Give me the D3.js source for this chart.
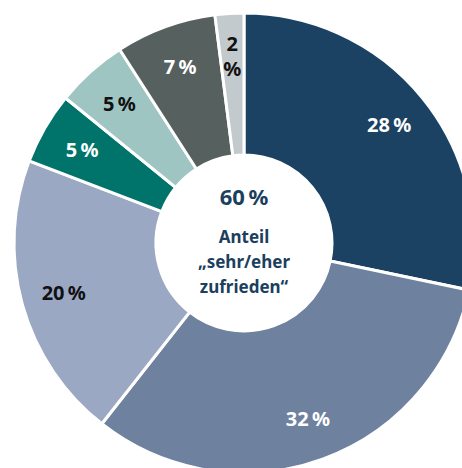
<!DOCTYPE html>
<html>
<head>
<meta charset="utf-8">
<script src="https://cdn.jsdelivr.net/npm/d3@7"></script>
<style>
  body { margin: 0; background: #fff; }
  svg { display: block; }
  text { font-family: "Noto Sans", "Open Sans", sans-serif; font-weight: bold; }
</style>
</head>
<body>
<div id="chart"></div>
<script>
// slices, clockwise from the top
var categories = ["a", "b", "c", "d", "e", "f", "g"];
var values = [28, 32, 20, 5, 5, 7, 2];
var labels = ["28\u202F%", "32\u202F%", "20\u202F%", "5\u202F%", "5\u202F%", "7\u202F%", "2\n%"];
var colors = ["#1b4263", "#6e82a0", "#9ba8c3", "#00746b", "#9fc5c3", "#56605e", "#c3cacd"];
var labelColors = ["#fff", "#fff", "#111", "#fff", "#111", "#fff", "#111"];
var centerLines = ["Anteil", "\u201Esehr/eher", "zufrieden\u201C"];
var centerValue = "60\u202F%";

var width = 462, height = 468;
var cx = 244, cy = 243;
var outerR = 230, innerR = 88;

var svg = d3.select("#chart").append("svg")
      .attr("width", width)
      .attr("height", height)
      .append("g")
      .attr("transform", "translate(" + cx + "," + cy + ")");

var data = categories.map(function(c, i) {
      return { key: c, value: values[i], label: labels[i], color: colors[i], tc: labelColors[i] };
});

var pie = d3.pie().sort(null).value(d => d.value);
var arc = d3.arc().innerRadius(innerR).outerRadius(outerR);
var labelArc = d3.arc().innerRadius(187).outerRadius(187);

var arcs = pie(data);

svg.selectAll("path")
      .data(arcs)
      .enter()
      .append("path")
      .attr("d", arc)
      .style("fill", d => d.data.color)
      .style("stroke", "#fff")
      .style("stroke-width", 3);

// slice labels
svg.selectAll("text.slice")
      .data(arcs)
      .enter()
      .append("text")
      .attr("class", "slice")
      .attr("text-anchor", "middle")
      .style("font-size", "20px")
      .style("fill", d => d.data.tc)
      .each(function(d) {
            var c = labelArc.centroid(d);
            var lines = d.data.label.split("\n");
            var top = c[1] + 7 - (lines.length - 1) * 12.5;
            var t = d3.select(this);
            lines.forEach(function(l, i) {
                  t.append("tspan")
                        .attr("x", c[0])
                        .attr("y", top + i * 25)
                        .text(l);
            });
      });

// centre text
svg.append("text")
      .attr("text-anchor", "middle")
      .attr("y", -38)
      .style("font-size", "22px")
      .style("fill", "#1b3f5e")
      .text(centerValue);

svg.selectAll("text.center")
      .data(centerLines)
      .enter()
      .append("text")
      .attr("class", "center")
      .attr("text-anchor", "middle")
      .attr("y", (d, i) => 0 + i * 25)
      .style("font-size", "17px")
      .style("fill", "#1b3f5e")
      .text(d => d);
</script>
</body>
</html>
